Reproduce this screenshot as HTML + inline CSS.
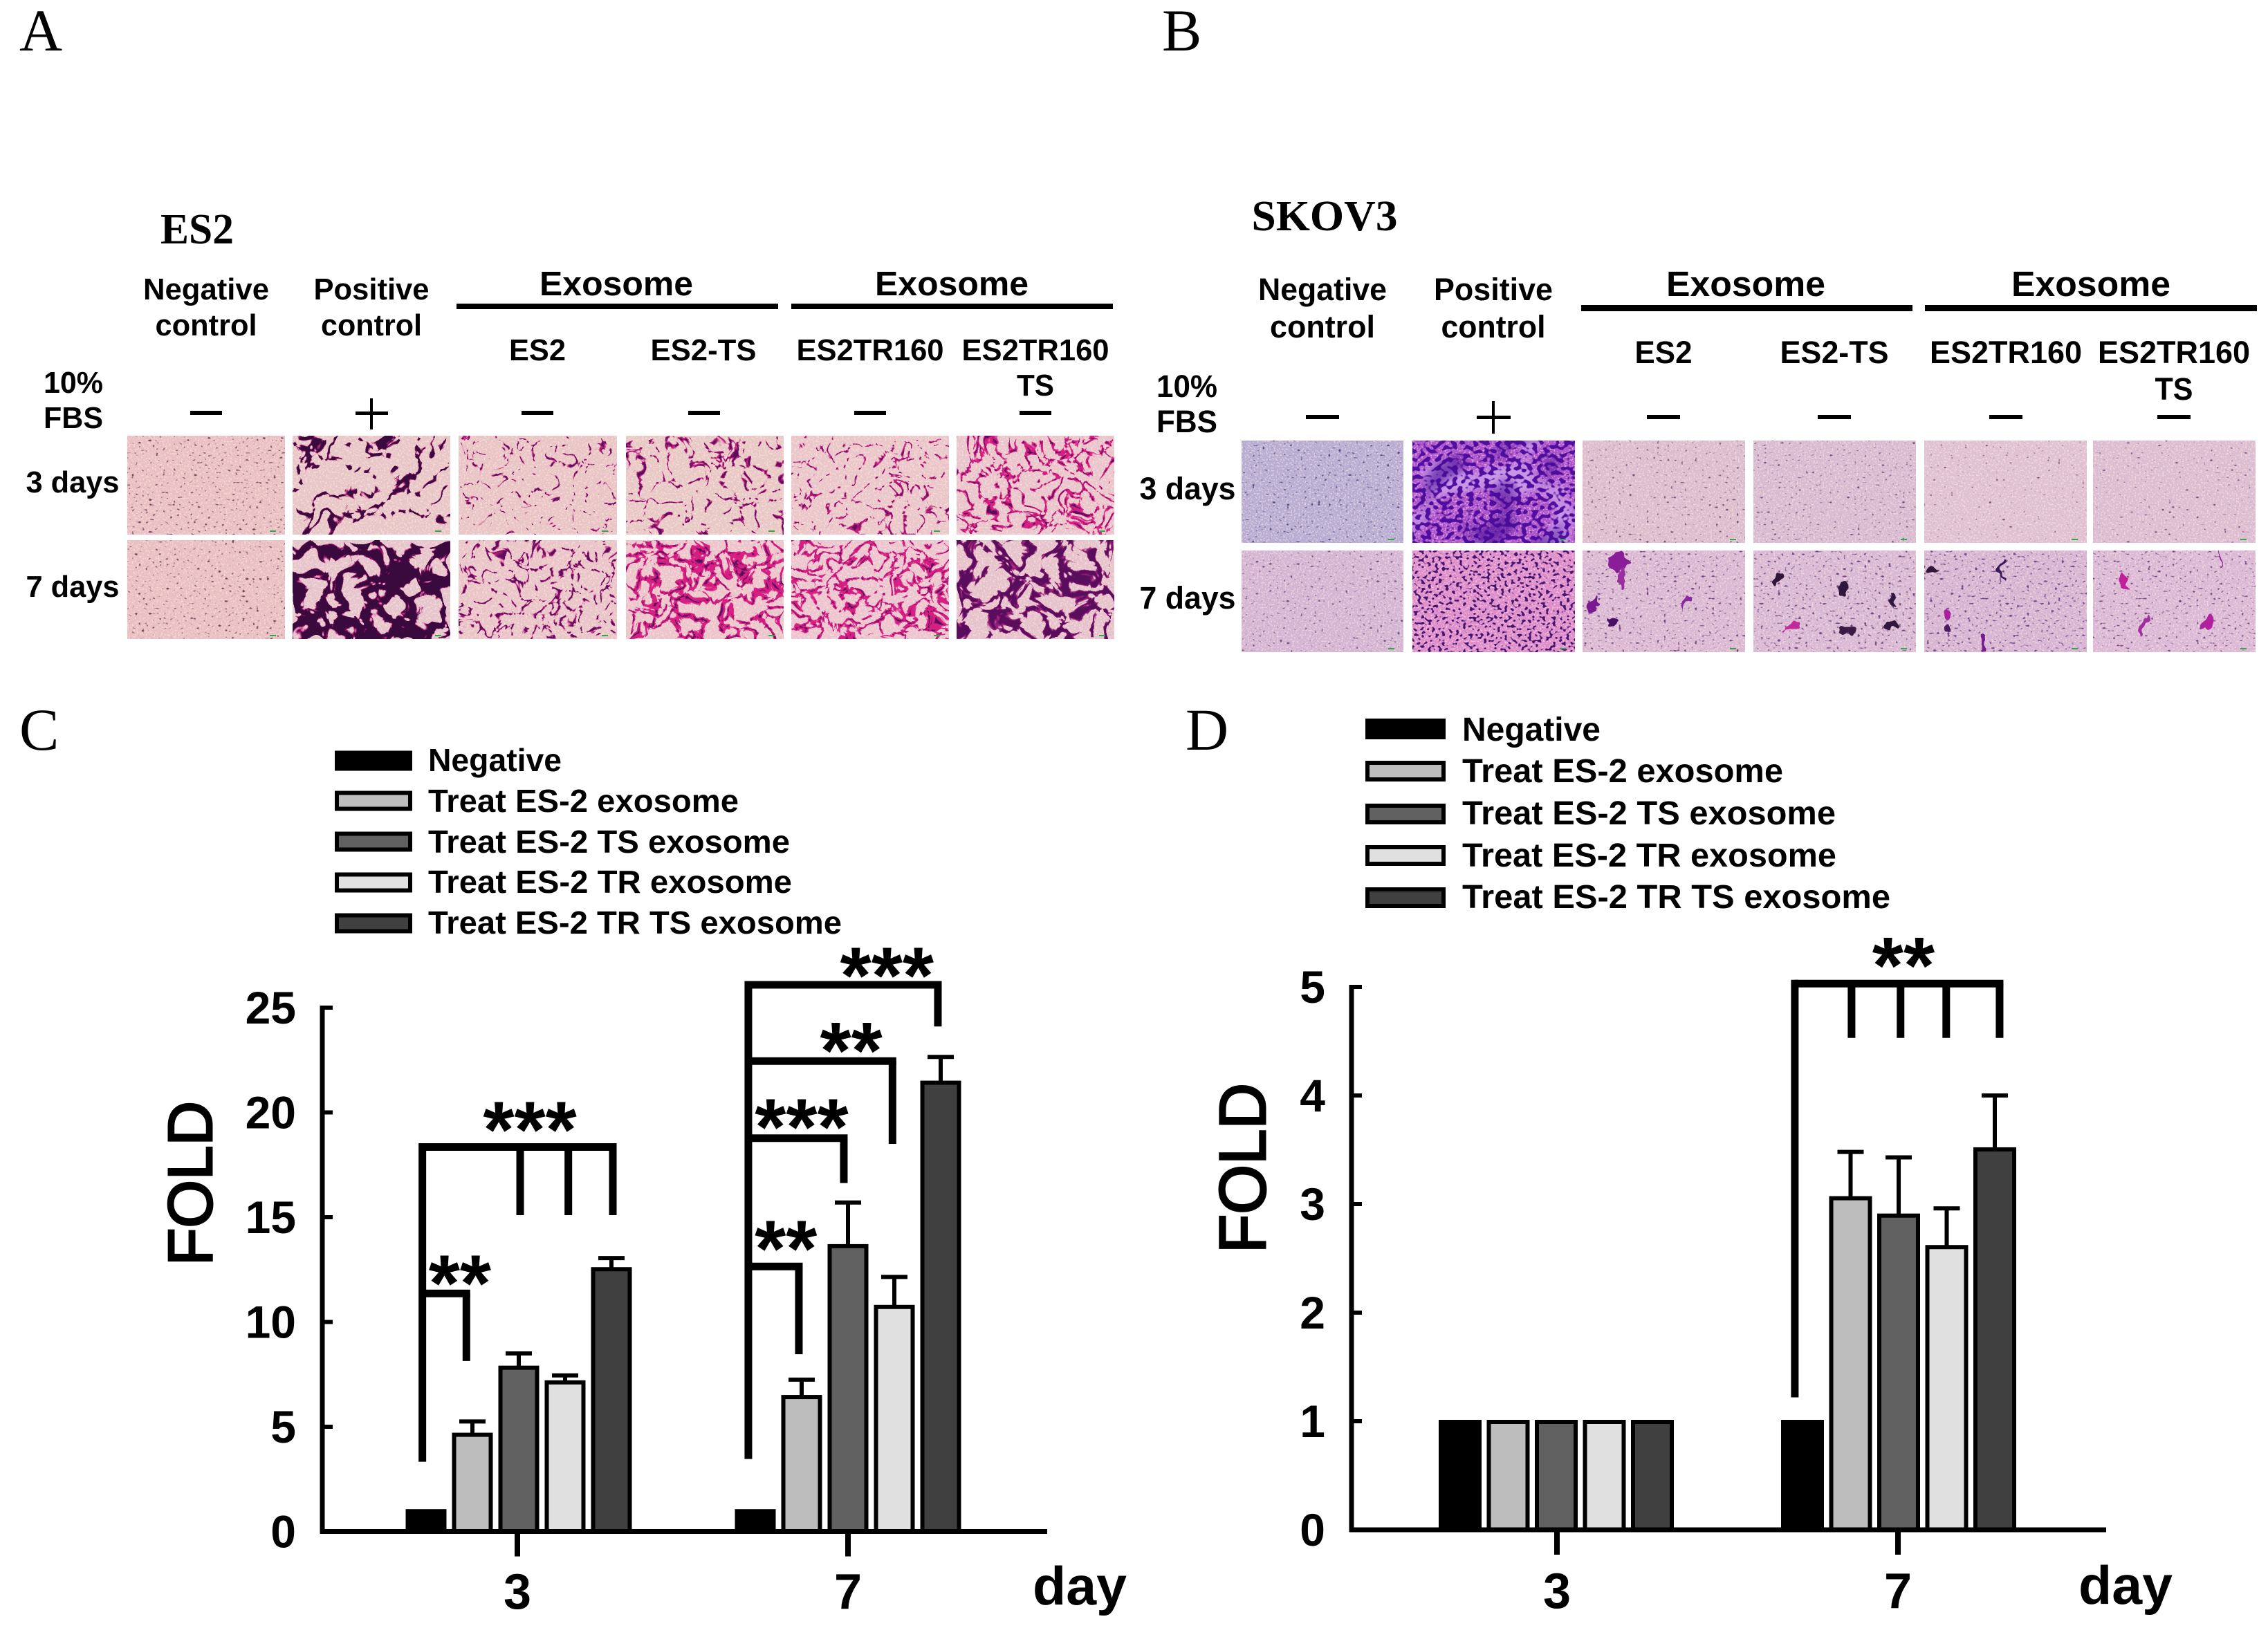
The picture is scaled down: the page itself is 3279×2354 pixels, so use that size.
<!DOCTYPE html>
<html lang="en">
<head>
<meta charset="utf-8">
<title>Exosome migration assay figure</title>
<style>
html,body{margin:0;padding:0;background:#fff}
svg{display:block}
.sans{font-family:"Liberation Sans",sans-serif;font-weight:bold;fill:#000}
.serif{font-family:"Liberation Serif",serif;fill:#000}
.serifb{font-family:"Liberation Serif",serif;font-weight:bold;fill:#000}
</style>
</head>
<body>
<svg id="fig" xmlns="http://www.w3.org/2000/svg" width="3279" height="2354" viewBox="0 0 3279 2354">
<defs id="defs"></defs>
<rect width="3279" height="2354" fill="#fff"/>
<g id="tiles"></g>

<text class="serif" x="28" y="73" font-size="86">A</text>
<text class="serif" x="1680" y="73" font-size="86">B</text>
<text class="serif" x="28" y="1084" font-size="86">C</text>
<text class="serif" x="1714" y="1084" font-size="86">D</text>

<g text-anchor="middle">
<text class="serifb" x="285" y="352" font-size="62" textLength="106" lengthAdjust="spacingAndGlyphs">ES2</text>
<text class="sans" x="298" y="433" font-size="44" textLength="182" lengthAdjust="spacingAndGlyphs">Negative</text>
<text class="sans" x="298" y="485" font-size="44" textLength="147" lengthAdjust="spacingAndGlyphs">control</text>
<text class="sans" x="537" y="433" font-size="44" textLength="167" lengthAdjust="spacingAndGlyphs">Positive</text>
<text class="sans" x="537" y="485" font-size="44" textLength="146" lengthAdjust="spacingAndGlyphs">control</text>
<text class="sans" x="891" y="427" font-size="49" textLength="222" lengthAdjust="spacingAndGlyphs">Exosome</text>
<text class="sans" x="1376" y="427" font-size="49" textLength="222" lengthAdjust="spacingAndGlyphs">Exosome</text>
<rect x="660" y="439" width="465" height="8" fill="#000"/>
<rect x="1144" y="439" width="465" height="8" fill="#000"/>
<text class="sans" x="777" y="521" font-size="44" textLength="82" lengthAdjust="spacingAndGlyphs">ES2</text>
<text class="sans" x="1017" y="521" font-size="44" textLength="153" lengthAdjust="spacingAndGlyphs">ES2-TS</text>
<text class="sans" x="1258" y="521" font-size="44" textLength="213" lengthAdjust="spacingAndGlyphs">ES2TR160</text>
<text class="sans" x="1497" y="521" font-size="44" textLength="213" lengthAdjust="spacingAndGlyphs">ES2TR160</text>
<text class="sans" x="1497" y="572" font-size="44" textLength="54" lengthAdjust="spacingAndGlyphs">TS</text>
<text class="sans" x="106" y="568" font-size="44" textLength="86" lengthAdjust="spacingAndGlyphs">10%</text>
<text class="sans" x="106" y="619" font-size="44" textLength="86" lengthAdjust="spacingAndGlyphs">FBS</text>
<text class="sans" x="105" y="712" font-size="44" textLength="135" lengthAdjust="spacingAndGlyphs">3 days</text>
<text class="sans" x="105" y="863" font-size="44" textLength="135" lengthAdjust="spacingAndGlyphs">7 days</text>
<g fill="#000">
<rect x="275" y="594" width="46" height="6"/>
<rect x="514" y="595" width="47" height="5"/>
<rect x="535" y="576" width="4" height="45"/>
<rect x="754" y="594" width="46" height="6"/>
<rect x="995" y="594" width="46" height="6"/>
<rect x="1235" y="594" width="46" height="6"/>
<rect x="1474" y="594" width="46" height="6"/>
</g>
</g>

<g text-anchor="middle">
<text class="serifb" x="1915" y="333" font-size="62" textLength="211" lengthAdjust="spacingAndGlyphs">SKOV3</text>
<text class="sans" x="1912" y="434" font-size="45" textLength="186" lengthAdjust="spacingAndGlyphs">Negative</text>
<text class="sans" x="1912" y="488" font-size="45" textLength="152" lengthAdjust="spacingAndGlyphs">control</text>
<text class="sans" x="2159" y="434" font-size="45" textLength="172" lengthAdjust="spacingAndGlyphs">Positive</text>
<text class="sans" x="2159" y="488" font-size="45" textLength="151" lengthAdjust="spacingAndGlyphs">control</text>
<text class="sans" x="2524" y="428" font-size="51" textLength="230" lengthAdjust="spacingAndGlyphs">Exosome</text>
<text class="sans" x="3023" y="428" font-size="51" textLength="230" lengthAdjust="spacingAndGlyphs">Exosome</text>
<rect x="2286" y="441" width="479" height="9" fill="#000"/>
<rect x="2783" y="441" width="480" height="9" fill="#000"/>
<text class="sans" x="2405" y="525" font-size="45" textLength="83" lengthAdjust="spacingAndGlyphs">ES2</text>
<text class="sans" x="2652" y="525" font-size="45" textLength="157" lengthAdjust="spacingAndGlyphs">ES2-TS</text>
<text class="sans" x="2900" y="525" font-size="45" textLength="220" lengthAdjust="spacingAndGlyphs">ES2TR160</text>
<text class="sans" x="3143" y="525" font-size="45" textLength="220" lengthAdjust="spacingAndGlyphs">ES2TR160</text>
<text class="sans" x="3143" y="578" font-size="45" textLength="55" lengthAdjust="spacingAndGlyphs">TS</text>
<text class="sans" x="1716" y="574" font-size="45" textLength="88" lengthAdjust="spacingAndGlyphs">10%</text>
<text class="sans" x="1716" y="625" font-size="45" textLength="88" lengthAdjust="spacingAndGlyphs">FBS</text>
<text class="sans" x="1717" y="722" font-size="45" textLength="139" lengthAdjust="spacingAndGlyphs">3 days</text>
<text class="sans" x="1717" y="880" font-size="45" textLength="139" lengthAdjust="spacingAndGlyphs">7 days</text>
<g fill="#000">
<rect x="1888" y="600" width="48" height="6"/>
<rect x="2135" y="601" width="49" height="5"/>
<rect x="2157" y="580" width="4" height="47"/>
<rect x="2381" y="600" width="48" height="6"/>
<rect x="2628" y="600" width="48" height="6"/>
<rect x="2876" y="600" width="48" height="6"/>
<rect x="3119" y="600" width="48" height="6"/>
</g>
</g>

<g id="panelC"></g>
<g id="panelD"></g>
</svg>

<script>
// ---------- chart data ----------
const dayLabels = ['3', '7'];
const seriesLabels = ['Negative', 'Treat ES-2 exosome', 'Treat ES-2 TS exosome', 'Treat ES-2 TR exosome', 'Treat ES-2 TR TS exosome'];

const panelCTicks = [0, 5, 10, 15, 20, 25];
const panelCNegative = [1, 1];
const panelCEs2 = [4.65, 6.45];
const panelCEs2Ts = [7.85, 13.65];
const panelCEs2Tr = [7.15, 10.75];
const panelCEs2TrTs = [12.55, 21.45];
const panelCNegativeErr = [0, 0];
const panelCEs2Err = [0.6, 0.8];
const panelCEs2TsErr = [0.65, 2.05];
const panelCEs2TrErr = [0.3, 1.4];
const panelCEs2TrTsErr = [0.5, 1.2];

const panelDTicks = [0, 1, 2, 3, 4, 5];
const panelDNegative = [1, 1];
const panelDEs2 = [1, 3.06];
const panelDEs2Ts = [1, 2.9];
const panelDEs2Tr = [1, 2.61];
const panelDEs2TrTs = [1, 3.51];
const panelDNegativeErr = [0, 0];
const panelDEs2Err = [0, 0.42];
const panelDEs2TsErr = [0, 0.53];
const panelDEs2TrErr = [0, 0.35];
const panelDEs2TrTsErr = [0, 0.49];

// significance brackets, in data units (fold) and fractional series index
const panelCBracketGroup = [0, 0, 1, 1, 1, 1];
const panelCBracketTop = [18.35, 11.36, 26.09, 22.45, 18.77, 12.65];
const panelCBracketEnd = [15.1, 8.14, 24.1, 18.5, 16.63, 8.46];
const panelCBracketLegs = [[2.03, 3.07, 4.03], [0.87], [3.94], [2.96], [1.91], [0.94]];
const panelCStars = ['***', '**', '***', '**', '***', '**'];
const panelCStarSeries = [2.24, 0.73, 2.84, 2.07, 1.0, 0.66];
const panelCStarValue = [19.7, 12.38, 27.07, 23.48, 19.83, 14.03];
const panelCStemGroup = [0, 1];
const panelCStemSeries = [-0.08, -0.15];
const panelCStemBottom = [3.33, 3.46];
const panelCStemTop = [18.35, 26.09];

const panelDBracketGroup = [1];
const panelDBracketTop = [5.03];
const panelDBracketEnd = [4.53];
const panelDBracketLegs = [[1.02, 2.04, 2.99, 4.1]];
const panelDStars = ['**'];
const panelDStarSeries = [2.1];
const panelDStarValue = [5.3];
const panelDStemGroup = [1];
const panelDStemSeries = [-0.16];
const panelDStemBottom = [1.22];
const panelDStemTop = [5.03];

const palette = ['#000000', '#bdbdbd', '#606060', '#e0e0e0', '#404040'];

// ---------- drawing helpers ----------
const NS = 'http://www.w3.org/2000/svg';
function mk(tag, parent, attrs, txt) {
  const el = document.createElementNS(NS, tag);
  for (const k in attrs) el.setAttribute(k, attrs[k]);
  if (txt !== undefined) el.textContent = txt;
  parent.appendChild(el);
  return el;
}

function drawChart(root, p) {
  const y = v => p.y0 - v * p.pxPerUnit;
  const groupX = g => p.groupStart + g * p.groupGap;
  const seriesX = (g, s) => groupX(g) + (s - 2) * p.step;

  // bars and error bars
  p.series.forEach((vals, s) => {
    vals.forEach((v, g) => {
      const x = seriesX(g, s);
      const err = p.errors[s][g];
      if (err > 0) {
        const stem = mk('line', root, {x1: x, x2: x, y1: y(v), y2: y(v + err), stroke: '#000', 'stroke-width': 6});
        
        
        const cap = mk('line', root, {x1: x - 19, x2: x + 19, y1: y(v + err), y2: y(v + err), stroke: '#000', 'stroke-width': 6});
        
        
      }
      const bar = mk('rect', root, {x: x - p.barW / 2 + 3, y: y(v) + 1, width: p.barW - 6, height: Math.max(0, v * p.pxPerUnit - 1), fill: palette[s], stroke: '#000', 'stroke-width': 6});
      
      
    });
  });

  // axes
  const yAxis = mk('line', root, {x1: p.axisX, x2: p.axisX, y1: y(p.ticks[p.ticks.length - 1]) - 3, y2: p.y0 + 3, stroke: '#000', 'stroke-width': 7});
  
  
  const xAxis = mk('line', root, {x1: p.axisX - 3, x2: p.axisEnd, y1: p.y0, y2: p.y0, stroke: '#000', 'stroke-width': 7});
  
  

  p.ticks.forEach(t => {
    const tick = mk('line', root, {x1: p.axisX, x2: p.axisX + 15, y1: y(t), y2: y(t), stroke: '#000', 'stroke-width': 6});
    
    
    const lab = mk('text', root, {x: p.axisX - p.labelGap, y: y(t) + 23, 'text-anchor': 'end', class: 'sans', 'font-size': 66}, String(t));
    
    
  });

  dayLabels.forEach((d, g) => {
    const tick = mk('line', root, {x1: groupX(g) + p.tickShift[g], x2: groupX(g) + p.tickShift[g], y1: p.y0, y2: p.y0 + 36, stroke: '#000', 'stroke-width': 8});
    
    
    const lab = mk('text', root, {x: groupX(g) + p.tickShift[g], y: p.labelY, 'text-anchor': 'middle', class: 'sans', 'font-size': 72}, d);
    
    
  });

  const day = mk('text', root, {x: p.dayX, y: p.dayY, class: 'sans', 'font-size': 78, textLength: 136, lengthAdjust: 'spacingAndGlyphs'}, 'day');
  
  

  const fold = mk('text', root, {transform: 'translate(' + p.foldX + ' ' + p.foldY + ') rotate(-90)', 'text-anchor': 'middle', 'font-family': '"Liberation Sans",sans-serif', 'font-size': p.foldSize, stroke: '#000', 'stroke-width': 3, textLength: p.foldLen, lengthAdjust: 'spacingAndGlyphs'}, 'FOLD');
  
  

  // significance stems and brackets
  const lw = 11;
  p.stemGroup.forEach((g, i) => {
    const x = seriesX(g, p.stemSeries[i]);
    const stem = mk('line', root, {x1: x, x2: x, y1: y(p.stemBottom[i]), y2: y(p.stemTop[i]) - lw / 2, stroke: '#000', 'stroke-width': lw});
    
    
  });
  p.bracketGroup.forEach((g, i) => {
    const legs = p.bracketLegs[i];
    const left = seriesX(g, p.stemSeries[p.stemGroup.indexOf(g)]);
    const right = seriesX(g, legs[legs.length - 1]);
    const hz = mk('line', root, {x1: left, x2: right + lw / 2, y1: y(p.bracketTop[i]), y2: y(p.bracketTop[i]), stroke: '#000', 'stroke-width': lw});
    
    
    legs.forEach(s => {
      const lx = seriesX(g, s);
      const leg = mk('line', root, {x1: lx, x2: lx, y1: y(p.bracketTop[i]), y2: y(p.bracketEnd[i]), stroke: '#000', 'stroke-width': lw});
      
      
    });
    const st = mk('text', root, {x: seriesX(g, p.starSeries[i]), y: y(p.starValue[i]) + 56, 'text-anchor': 'middle', class: 'sans', 'font-size': 116}, p.stars[i]);
    
    
  });

  // legend
  seriesLabels.forEach((name, s) => {
    const sw = mk('rect', root, {x: p.legX + 3, y: p.legRow[s] - p.legH / 2 + 3, width: p.legW - 6, height: p.legH - 6, fill: palette[s], stroke: '#000', 'stroke-width': 6});
    
    
    const tx = mk('text', root, {x: p.legTextX, y: p.legBase[s], class: 'sans', 'font-size': p.legFont, textLength: p.legLen[s], lengthAdjust: 'spacingAndGlyphs'}, name);
    
    
  });
}

drawChart(document.getElementById('panelC'), {
  series: [panelCNegative, panelCEs2, panelCEs2Ts, panelCEs2Tr, panelCEs2TrTs],
  errors: [panelCNegativeErr, panelCEs2Err, panelCEs2TsErr, panelCEs2TrErr, panelCEs2TrTsErr],
  ticks: panelCTicks,
  bracketGroup: panelCBracketGroup, bracketTop: panelCBracketTop, bracketEnd: panelCBracketEnd, bracketLegs: panelCBracketLegs,
  stars: panelCStars, starSeries: panelCStarSeries, starValue: panelCStarValue,
  stemGroup: panelCStemGroup, stemSeries: panelCStemSeries, stemBottom: panelCStemBottom, stemTop: panelCStemTop,
  y0: 2214.5, pxPerUnit: 30.3, groupStart: 750, groupGap: 476, step: 67, barW: 59, labelGap: 38,
  axisX: 466, axisEnd: 1514, tickShift: [-2, 0], labelY: 2326, dayX: 1493, dayY: 2320,
  foldX: 306, foldY: 1711, foldSize: 90, foldLen: 238,
  legX: 484, legW: 112, legH: 29, legTextX: 619,
  legRow: [1100, 1158, 1217, 1276, 1335], legBase: [1115, 1174, 1233, 1291, 1350],
  legFont: 46, legLen: [193, 449, 523, 526, 598]
});

drawChart(document.getElementById('panelD'), {
  series: [panelDNegative, panelDEs2, panelDEs2Ts, panelDEs2Tr, panelDEs2TrTs],
  errors: [panelDNegativeErr, panelDEs2Err, panelDEs2TsErr, panelDEs2TrErr, panelDEs2TrTsErr],
  ticks: panelDTicks,
  bracketGroup: panelDBracketGroup, bracketTop: panelDBracketTop, bracketEnd: panelDBracketEnd, bracketLegs: panelDBracketLegs,
  stars: panelDStars, starSeries: panelDStarSeries, starValue: panelDStarValue,
  stemGroup: panelDStemGroup, stemSeries: panelDStemSeries, stemBottom: panelDStemBottom, stemTop: panelDStemTop,
  y0: 2212, pxPerUnit: 157, groupStart: 2250, groupGap: 495, step: 69.5, barW: 62, labelGap: 38,
  axisX: 1954, axisEnd: 3045, tickShift: [1, -1], labelY: 2325, dayX: 3005, dayY: 2319,
  foldX: 1829, foldY: 1689, foldSize: 95, foldLen: 246,
  legX: 1974, legW: 116, legH: 30, legTextX: 2114,
  legRow: [1054, 1115, 1177, 1237, 1298], legBase: [1071, 1131, 1192, 1253, 1313],
  legFont: 48, legLen: [200, 464, 540, 541, 619]
});

// ---------- micrograph textures (decorative photo stand-ins) ----------
const defs = document.getElementById('defs');
const tilesRoot = document.getElementById('tiles');
let fid = 0;
function noiseLayer(box, spec) {
  const id = 'f' + (fid++);
  const f = mk('filter', defs, {id: id, x: 0, y: 0, width: '100%', height: '100%', 'color-interpolation-filters': 'sRGB'});
  mk('feTurbulence', f, {type: spec.t, baseFrequency: spec.fx + ' ' + spec.fy, numOctaves: spec.o, seed: spec.seed, result: 'n'});
  const c = spec.rgb;
  const vals = ['0 0 0 0 ' + c[0] / 255, '0 0 0 0 ' + c[1] / 255, '0 0 0 0 ' + c[2] / 255, spec.s + ' 0 0 0 ' + (-spec.s * spec.T + (spec.a0 || 0))].join(' ');
  mk('feColorMatrix', f, {in: 'n', type: 'matrix', values: vals, result: 'c'});
  if (spec.warp) {
    mk('feTurbulence', f, {type: 'fractalNoise', baseFrequency: 0.025, numOctaves: 2, seed: spec.seed + 40, result: 'w'});
    mk('feDisplacementMap', f, {in: 'c', in2: 'w', scale: spec.warp, xChannelSelector: 'R', yChannelSelector: 'G'});
  }
  mk('rect', box.g, {x: box.x, y: box.y, width: box.w, height: box.h, filter: 'url(#' + id + ')', opacity: spec.op === undefined ? 1 : spec.op});
}
function net(f, T, rgb, seed, k) { return {t: 'turbulence', fx: f, fy: f, o: 3, seed: seed, rgb: rgb, s: -(k || 30), T: T, a0: 0.5, warp: 34}; }
function speck(fx, fy, T, rgb, seed, k, op) { return {t: 'fractalNoise', fx: fx, fy: fy, o: 1, seed: seed, rgb: rgb, s: k || 10, T: T, a0: 0, op: op === undefined ? 1 : op}; }
function grain(seed) { return {t: 'fractalNoise', fx: 0.45, fy: 0.45, o: 1, seed: seed, rgb: [255, 240, 225], s: 5, T: 0.5, op: 0.55}; }

const DARK = [58, 10, 62], PURP = [88, 14, 92], MAG = [190, 28, 125], HOT = [215, 30, 130];
const SPK = [120, 70, 95];
const colsA = [[184, 228], [423, 228], [663, 229], [905, 228], [1144, 228], [1383, 228]];
const rowsA = [[630, 143], [781, 143]];
const colsB = [[1795, 234], [2042, 235], [2288, 235], [2535, 235], [2782, 235], [3026, 235]];
const rowsB = [[637, 148], [796, 147]];
const tileStyles = [
  // panel A, 3 days
  {base: '#e9bfc3', layers: [speck(.2, .28, .65, SPK, 1)]},
  {base: '#e8c6c8', layers: [net(.028, .165, MAG, 2), net(.028, .145, DARK, 2)]},
  {base: '#e9c4c6', layers: [net(.04, .1, MAG, 3), net(.04, .07, PURP, 3)]},
  {base: '#e8c8c6', layers: [net(.04, .14, MAG, 4), net(.04, .09, PURP, 4)]},
  {base: '#eac6ca', layers: [net(.045, .135, MAG, 5), net(.045, .065, PURP, 5)]},
  {base: '#e9c4cc', layers: [net(.05, .19, HOT, 6), net(.05, .085, PURP, 6)]},
  // panel A, 7 days
  {base: '#e9bfc3', layers: [speck(.2, .28, .65, SPK, 7)]},
  {base: '#e6c4cc', layers: [net(.03, .32, MAG, 8), net(.03, .29, DARK, 8)]},
  {base: '#e9c4c8', layers: [net(.045, .135, MAG, 9), net(.045, .1, PURP, 9)]},
  {base: '#ecc4cc', layers: [net(.045, .25, HOT, 10), net(.045, .1, PURP, 10)]},
  {base: '#ecc4d0', layers: [net(.055, .22, HOT, 11), net(.055, .08, PURP, 11)]},
  {base: '#e6c2cc', layers: [net(.035, .26, [150, 30, 120], 12), net(.035, .2, PURP, 12)]},
  // panel B, 3 days
  {base: '#b8acd4', layers: [speck(.2, .28, .66, [90, 80, 130], 13)]},
  {base: '#ae52cc', layers: [speck(.018, .018, .53, [200, 150, 230], 14, 8), speck(.13, .16, .5, [80, 14, 160], 15, 14), speck(.02, .02, .53, [70, 10, 150], 16, 6, .6)]},
  {base: '#dcbccf', layers: [speck(.2, .28, .67, [120, 80, 120], 17)]},
  {base: '#d8bad2', layers: [speck(.2, .28, .67, [120, 80, 130], 18)]},
  {base: '#dfc0d2', layers: [speck(.2, .28, .69, [120, 80, 120], 19)]},
  {base: '#dcbcd2', layers: [speck(.2, .28, .69, [120, 80, 130], 20)]},
  // panel B, 7 days
  {base: '#d4b4d4', layers: [speck(.2, .28, .66, [120, 80, 130], 21)]},
  {base: '#de8ccc', layers: [speck(.2, .24, .56, [70, 20, 110], 22, 14)]},
  {base: '#dab8d4', layers: [speck(.2, .28, .65, [120, 70, 130], 23)]},
  {base: '#d8b8d4', layers: [speck(.2, .28, .64, [120, 70, 130], 24)]},
  {base: '#d6b4d4', layers: [speck(.2, .28, .64, [120, 70, 140], 25)]},
  {base: '#dab8d6', layers: [speck(.2, .28, .65, [120, 70, 130], 26)]}
];

let styleIndex = 0;
[[colsA, rowsA], [colsB, rowsB]].forEach(pair => {
  pair[1].forEach(row => {
    pair[0].forEach(col => {
      const st = tileStyles[styleIndex];
      const g = mk('g', tilesRoot, {});
      
      
      mk('rect', g, {x: col[0], y: row[0], width: col[1], height: row[1], fill: st.base});
      const box = {g: g, x: col[0], y: row[0], w: col[1], h: row[1]};
      noiseLayer(box, grain(100 + styleIndex));
      st.layers.forEach(l => noiseLayer(box, l));
      mk('rect', g, {x: col[0] + col[1] - 22, y: row[0] + row[1] - 6, width: 9, height: 2, fill: '#2fa84a'});
      styleIndex++;
    });
  });
});

// stained colonies in SKOV3 7-day tiles: centre x, centre y, rx, ry, tilt, colour
const blobFilter = mk('filter', defs, {id: 'rough', x: '-5%', y: '-5%', width: '110%', height: '110%', 'color-interpolation-filters': 'sRGB'});
mk('feTurbulence', blobFilter, {type: 'fractalNoise', baseFrequency: 0.06, numOctaves: 2, seed: 5, result: 'r'});
mk('feDisplacementMap', blobFilter, {in: 'SourceGraphic', in2: 'r', scale: 22, xChannelSelector: 'R', yChannelSelector: 'G'});
const blobGroup = mk('g', tilesRoot, {filter: 'url(#rough)'});


const blobCx = [2340, 2345, 2304, 2333, 2437, 2570, 2667, 2737, 2735, 2670, 2591, 2793, 2894, 2816, 2868, 2816, 3072, 3192, 3098, 3211];
const blobCy = [813, 838, 876, 900, 872, 840, 851, 867, 905, 914, 905, 825, 825, 889, 927, 907, 840, 900, 907, 805];
const blobRx = [16, 4, 5, 6, 3, 5, 7, 5, 5, 10, 12, 5, 3, 8, 5, 5, 8, 8, 3, 2];
const blobRy = [12, 16, 12, 7, 12, 8, 12, 9, 9, 4, 4, 5, 10, 7, 12, 4, 16, 12, 14, 11];
const blobTilt = [0, 0, 30, 0, 25, 10, -10, 0, 0, 0, -20, 0, 0, -20, 0, 0, -10, 10, 15, 0];
const blobCol = ['#8a1e9a', '#9a2ea0', '#7a1a90', '#4a1068', '#8a2aa0', '#30183c', '#30183c', '#30183c', '#30183c', '#3a1a44', '#c02a9a', '#30183c', '#3a1a54', '#a820a0', '#7a1a90', '#4a1a60', '#c0209a', '#b020a0', '#a030a0', '#8a1a90'];
blobCx.forEach((cx, i) => {
  const b = mk('ellipse', blobGroup, {cx: cx, cy: blobCy[i], rx: blobRx[i], ry: blobRy[i], fill: blobCol[i], transform: 'rotate(' + blobTilt[i] + ' ' + cx + ' ' + blobCy[i] + ')'});
  
  
});
</script>
</body>
</html>
